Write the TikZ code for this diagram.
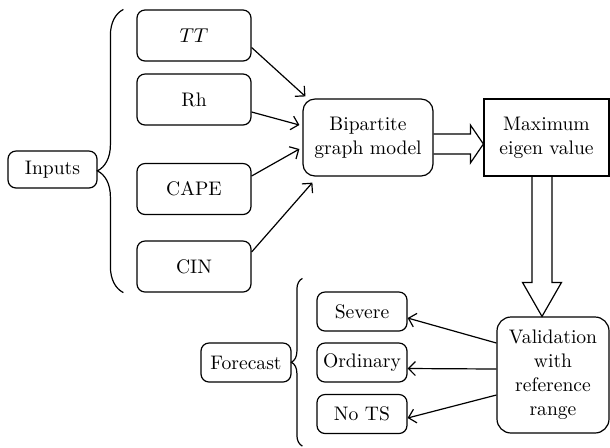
\documentclass[tikz,border=0pt]{standalone}
\usetikzlibrary{calc,arrows.meta,decorations.pathreplacing}
\begin{document}
\begin{tikzpicture}[x=0.5pt,y=-0.5pt,
  line width=0.6pt,
  txt/.style={font=\fontsize{9.8}{12}\selectfont, align=center, inner sep=0pt},
  rbox/.style={txt, draw, rounded corners=4pt},
  inbox/.style={rbox, minimum width=57pt, minimum height=25.5pt},
  outbox/.style={rbox, minimum width=45pt, minimum height=19.5pt},
  link/.style={-{Straight Barb[length=3.5pt,width=7pt]}},
  fat/.style={line width=0.6pt, line join=miter},
  curly/.style={decorate, decoration={brace, amplitude=#1}}
]
\useasboundingbox (0,0) rectangle (610,447);

% input side
\node[rbox, minimum width=44.5pt, minimum height=18.5pt] (inputs) at (52.5,169.5) {Inputs};
\node[inbox] (tt)   at (194,35.5)  {$TT$};
\node[inbox] (rh)   at (194,99.5)  {Rh};
\node[inbox] (cape) at (194,189)   {CAPE};
\node[inbox] (cin)  at (194,266.5) {CIN};

% model and result
\node[rbox, rounded corners=6pt, minimum width=65pt, minimum height=38.5pt] (bip) at (368,137.5) {Bipartite\\graph model};
\node[txt, draw, minimum width=62.5pt, minimum height=38.5pt] (max) at (546.5,137.5) {Maximum\\eigen value};
\node[rbox, rounded corners=7pt, minimum width=56pt, minimum height=58pt] (val) at (553,375) {Validation\\with\\reference\\range};

% forecast side
\node[outbox] (sev)  at (362,311.5) {Severe};
\node[outbox] (ord)  at (362,362.5) {Ordinary};
\node[outbox] (nots) at (362,414)   {No TS};
\node[outbox] (fc)   at (246,362.5) {Forecast};

% braces
\draw[curly=13pt, decoration={aspect=0.43}] ($(cin.south west)+(-13,0)$) -- ($(tt.north west)+(-13,0)$);
\draw[curly=5.5pt, decoration={aspect=0.5}] ($(nots.south west)+(-14,12)$) -- ($(sev.north west)+(-14,-13)$);

% inputs into the model
\draw[link] ($(tt.east)+(0,12)$)    -- ($(bip.north west)+(3,-2)$);
\draw[link] ($(rh.east)+(0,12.5)$)  -- ($(bip.west)+(-3,-12.5)$);
\draw[link] ($(cape.east)+(0,-13)$) -- ($(bip.west)+(-3,11.5)$);
\draw[link] ($(cin.east)+(0,-14.5)$) -- ($(bip.south west)+(10,6)$);

% block arrow: model -> maximum eigen value
\draw[fat] ($(bip.east)+(0,-3.5)$) -- ($(max.west)+(-13,-3.5)$) -- ($(max.west)+(-13,-12.5)$)
  -- ($(max.west)+(0,6.5)$) -- ($(max.west)+(-13,25.5)$) -- ($(max.west)+(-13,16.5)$)
  -- ($(bip.east)+(0,16.5)$);

% block arrow: maximum eigen value -> validation
\path (max.south) ++(-4.5,0) coordinate (dtop);
\path (dtop |- val.north) coordinate (dtip);
\draw[fat] ($(dtop)+(-10,0)$) -- ($(dtip)+(-10,-34)$) -- ($(dtip)+(-19.5,-34)$)
  -- (dtip) -- ($(dtip)+(19.5,-34)$) -- ($(dtip)+(10,-34)$) -- ($(dtop)+(10,0)$);

% validation to forecast classes
\draw[link] ($(val.west)+(0,-32)$) -- ($(sev.east)+(0,6.5)$);
\draw[link] ($(val.west)+(0,-6)$)  -- ($(ord.east)+(0,6)$);
\draw[link] ($(val.west)+(0,20)$)  -- ($(nots.east)+(0,4)$);
\end{tikzpicture}
\end{document}
